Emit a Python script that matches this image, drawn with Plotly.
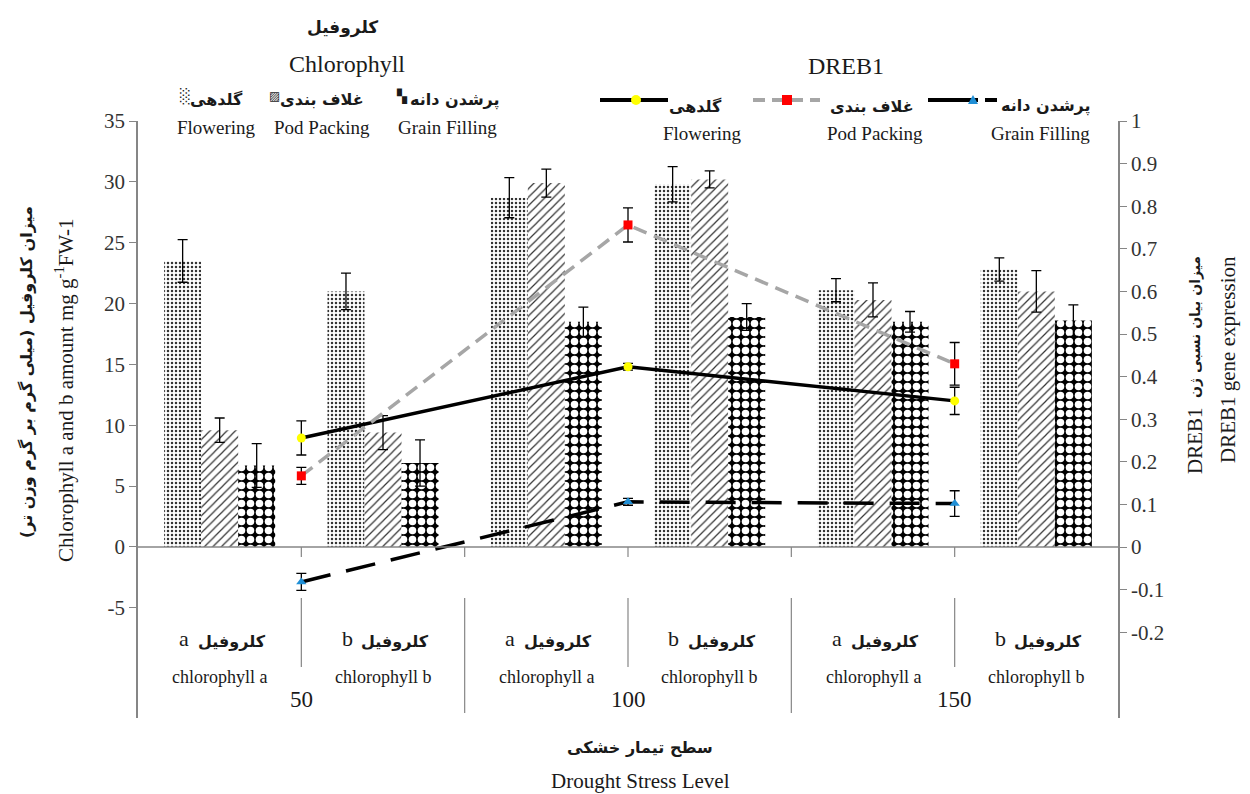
import plotly.graph_objects as go

# ---------------- data ----------------
cat_fa = ["کلروفیل", "کلروفیل", "کلروفیل", "کلروفیل", "کلروفیل", "کلروفیل"]
cat_letter = ["a", "b", "a", "b", "a", "b"]
cat_en = ["chlorophyll a", "chlorophyll b", "chlorophyll a", "chlorophyll b", "chlorophyll a", "chlorophyll b"]
levels = ["50", "100", "150"]

flowering = [23.5, 21.0, 28.7, 29.8, 21.1, 22.8]
flowering_err = [1.75, 1.5, 1.65, 1.45, 0.95, 0.95]
pod = [9.6, 9.4, 29.9, 30.2, 20.3, 21.0]
pod_err = [1.0, 1.4, 1.15, 0.7, 1.4, 1.7]
grain = [6.7, 6.9, 18.5, 18.9, 18.5, 18.6]
grain_err = [1.8, 1.9, 1.2, 1.1, 0.85, 1.3]

dreb_flowering = [0.256, 0.423, 0.343]
dreb_flowering_err = [0.04, 0.008, 0.032]
dreb_pod = [0.167, 0.756, 0.43]
dreb_pod_err = [0.02, 0.04, 0.05]
dreb_grain = [-0.082, 0.106, 0.102]
dreb_grain_err = [0.02, 0.008, 0.03]

left_ticks = [-5, 0, 5, 10, 15, 20, 25, 30, 35]
left_ticktext = ["-5", "0", "5", "10", "15", "20", "25", "30", "35"]
right_ticks = [-0.2, -0.1, 0, 0.1, 0.2, 0.3, 0.4, 0.5, 0.6, 0.7, 0.8, 0.9, 1.0]
right_ticktext = ["-0.2", "-0.1", "0", "0.1", "0.2", "0.3", "0.4", "0.5", "0.6", "0.7", "0.8", "0.9", "1"]

# ---------------- layout helpers ----------------
W, H = 1250, 794
L, R, T, B = 138, 132, 121, 76
PW, PH = W - L - R, H - T - B
SERIF = "Liberation Serif, Times New Roman, serif"
FA = "DejaVu Sans"
AX = "#868686"


def xp(px):
    return (px - L) / PW


def yp(py):
    return (H - B - py) / PH


def rtl(s):
    return "\u202b" + s + "\u202c"


xb = [i + 0.5 for i in range(len(cat_en))]
xl = [2 * i + 1 for i in range(len(levels))]

fig = go.Figure()

err_style = dict(type="data", color="black", thickness=1.3, width=5)

fig.add_trace(go.Bar(
    x=xb, y=flowering, name="Flowering",
    error_y=dict(array=flowering_err, **err_style),
    marker=dict(color="white", line=dict(width=0),
                pattern=dict(shape=".", fgcolor="#333333", fgopacity=1, bgcolor="white", size=4, solidity=0.3)),
))
fig.add_trace(go.Bar(
    x=xb, y=pod, name="Pod Packing",
    error_y=dict(array=pod_err, **err_style),
    marker=dict(color="white", line=dict(width=0),
                pattern=dict(shape="/", fgcolor="#333333", fgopacity=1, bgcolor="white", size=6, solidity=0.2)),
))
fig.add_trace(go.Bar(
    x=xb, y=grain, name="Grain Filling",
    error_y=dict(array=grain_err, **err_style),
    marker=dict(color="black", line=dict(width=0),
                pattern=dict(shape=".", fgcolor="white", fgopacity=1, bgcolor="black", size=9, solidity=0.55)),
))

lerr = dict(type="data", color="black", thickness=1.3, width=5)
fig.add_trace(go.Scatter(
    x=xl, y=dreb_flowering, yaxis="y2", mode="lines+markers",
    line=dict(color="black", width=3.5),
    marker=dict(symbol="circle", size=9, color="#FFFF00"),
    error_y=dict(array=dreb_flowering_err, **lerr),
))
fig.add_trace(go.Scatter(
    x=xl, y=dreb_pod, yaxis="y2", mode="lines+markers",
    line=dict(color="#A6A6A6", width=3.5, dash="14px,8px"),
    marker=dict(symbol="square", size=9, color="#FF0000"),
    error_y=dict(array=dreb_pod_err, **lerr),
))
fig.add_trace(go.Scatter(
    x=xl, y=dreb_grain, yaxis="y2", mode="lines+markers",
    line=dict(color="black", width=3.5, dash="30px,16px"),
    marker=dict(symbol="triangle-up", size=9, color="#1F8FD6"),
    error_y=dict(array=dreb_grain_err, **lerr),
))

shapes = []
# zero line
shapes.append(dict(type="line", xref="x", yref="y", x0=0, x1=6, y0=0, y1=0,
                   line=dict(color=AX, width=1.5), layer="above"))
# category ticks on the zero line
for k in range(1, 6):
    shapes.append(dict(type="line", xref="x", yref="paper", x0=k, x1=k,
                       y0=yp(547), y1=yp(557), line=dict(color=AX, width=1.2)))
# separators in the category area
for k in xl:
    shapes.append(dict(type="line", xref="x", yref="paper", x0=k, x1=k,
                       y0=yp(598), y1=yp(667), line=dict(color=AX, width=1.2)))
for k in [2, 4]:
    shapes.append(dict(type="line", xref="x", yref="paper", x0=k, x1=k,
                       y0=yp(598), y1=yp(713), line=dict(color=AX, width=1.2)))


# DREB1 legend samples
def hline(x0, x1, y, color, width, dash="solid"):
    shapes.append(dict(type="line", xref="paper", yref="paper", x0=xp(x0), x1=xp(x1),
                       y0=yp(y), y1=yp(y), line=dict(color=color, width=width, dash=dash)))


hline(600, 668, 100, "black", 4)
hline(753, 820, 100, "#A6A6A6", 4, "12px,7px")
hline(928, 978, 100, "black", 4)
hline(985, 997, 100, "black", 4)

shapes.append(dict(type="circle", xref="paper", yref="paper", xsizemode="pixel", ysizemode="pixel",
                   xanchor=xp(636), yanchor=yp(100), x0=-5, x1=5, y0=-5, y1=5,
                   fillcolor="#FFFF00", line=dict(width=0)))
shapes.append(dict(type="rect", xref="paper", yref="paper", xsizemode="pixel", ysizemode="pixel",
                   xanchor=xp(787), yanchor=yp(100), x0=-5, x1=5, y0=-5, y1=5,
                   fillcolor="#FF0000", line=dict(width=0)))
shapes.append(dict(type="path", xref="paper", yref="paper", xsizemode="pixel", ysizemode="pixel",
                   xanchor=xp(973), yanchor=yp(100), path="M -5 -4 L 5 -4 L 0 5 Z",
                   fillcolor="#1F8FD6", line=dict(width=0)))

ann = []


def text(px, py, s, size, font=SERIF, angle=0, color="#1a1a1a", weight="normal"):
    ann.append(dict(x=xp(px), y=yp(py), xref="paper", yref="paper", text=s, showarrow=False,
                    textangle=angle, font=dict(family=font, size=size, color=color, weight=weight),
                    xanchor="center", yanchor="middle"))


def fa(px, py, s, size=16, angle=0):
    text(px, py, rtl(s), size, FA, angle, weight="bold")


# top-left legend (Chlorophyll)
fa(342, 27, "کلروفیل", 17)
text(347, 64, "Chlorophyll", 24)
text(185, 96, "░", 14, FA)
fa(216, 100, "گلدهی")
text(274, 96, "▨", 12, FA)
fa(322, 100, "غلاف بندی")
text(402, 96, "▚", 13, FA)
fa(455, 100, "پرشدن دانه")
text(216, 128, "Flowering", 19)
text(322, 128, "Pod Packing", 19)
text(447, 128, "Grain Filling", 19)

# top-right legend (DREB1)
text(846, 66, "DREB1", 24)
fa(695, 106, "گلدهی")
fa(872, 106, "غلاف بندی")
fa(1046, 106, "پرشدن دانه")
text(702, 133, "Flowering", 19)
text(875, 133, "Pod Packing", 19)
text(1040, 133, "Grain Filling", 19)

# category labels
for i in range(len(cat_en)):
    px = L + (i + 0.5) * PW / 6
    fa(px + 12, 641, cat_fa[i])
    text(px - 36, 638, cat_letter[i], 22)
    text(px, 677, cat_en[i], 18)
for j, lv in enumerate(levels):
    px = L + (2 * j + 1) * PW / 6
    text(px, 699, lv, 23)

# x title
fa(640, 747, "سطح تیمار خشکی")
text(640, 781, "Drought Stress Level", 21)

# y titles
fa(26, 372, "میزان کلروفیل (میلی گرم بر گرم وزن تر)", 16, -90)
text(64, 390, "Chlorophyll a and b amount mg g<sup>-1</sup>FW-1", 21, SERIF, -90)
fa(1195, 327, "میزان بیان نسبی ژن", 14, -90)
text(1195, 441, "DREB1", 21, SERIF, -90)
text(1228, 360, "DREB1 gene expression", 21, SERIF, -90)

fig.update_layout(
    width=W, height=H,
    margin=dict(l=L, r=R, t=T, b=B),
    paper_bgcolor="white", plot_bgcolor="white",
    showlegend=False,
    barmode="group", bargap=0.32, bargroupgap=0,
    xaxis=dict(range=[0, 6], visible=False),
    yaxis=dict(range=[-14.05, 35], tickvals=left_ticks, ticktext=left_ticktext,
               ticks="outside", ticklen=7, tickcolor=AX, showline=True, linecolor=AX, linewidth=1.5,
               showgrid=False, zeroline=False,
               tickfont=dict(family=SERIF, size=21, color="#333333")),
    yaxis2=dict(range=[-0.4014, 1.0], tickvals=right_ticks, ticktext=right_ticktext,
                overlaying="y", side="right",
                ticks="outside", ticklen=7, tickcolor=AX, showline=True, linecolor=AX, linewidth=1.5,
                showgrid=False, zeroline=False,
                tickfont=dict(family=SERIF, size=21, color="#333333")),
    shapes=shapes,
    annotations=ann,
)

fig.write_html("out.html", config={"displayModeBar": False},
               post_script="document.body.style.margin='0px';document.body.style.overflow='hidden';")
